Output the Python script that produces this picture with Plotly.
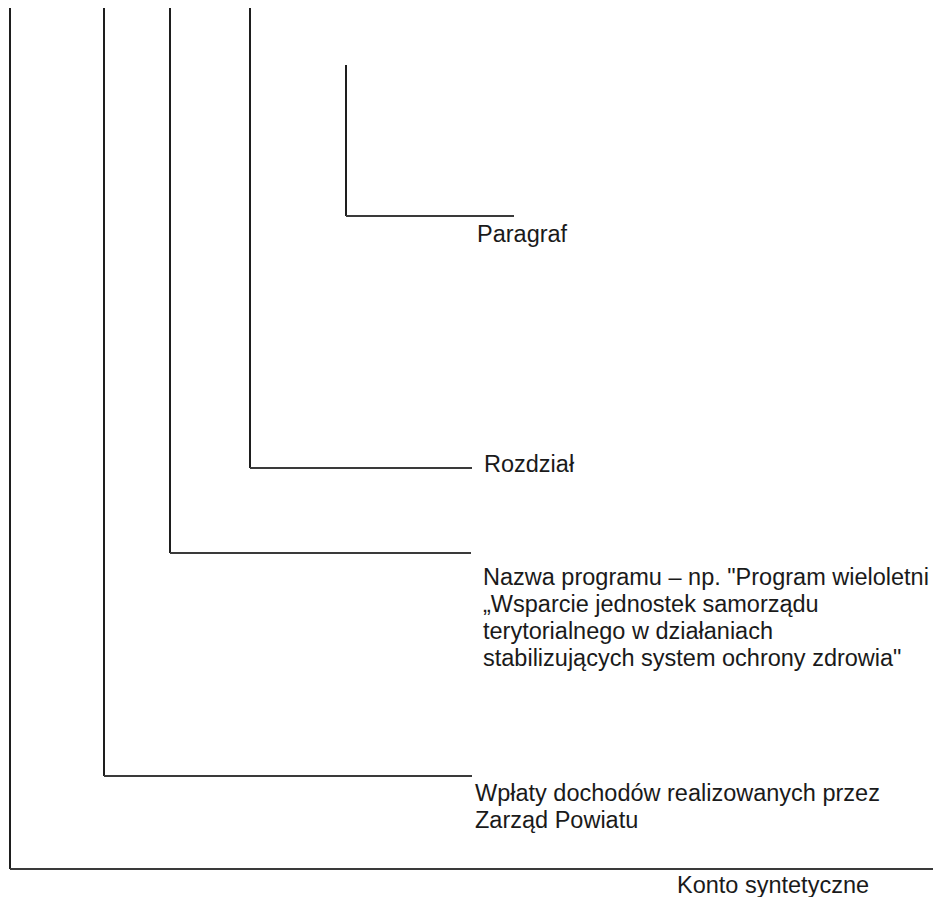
import plotly.graph_objects as go

PAGE_W, PAGE_H = 941, 897
OFF = 8  # default body margin of the html page

# Bracket levels (outermost first): label lines
labels = [
    ["Konto syntetyczne"],
    ["Wpłaty dochodów realizowanych przez", "Zarząd Powiatu"],
    ["Nazwa programu – np. \"Program wieloletni", "„Wsparcie jednostek samorządu",
     "terytorialnego w działaniach", "stabilizujących system ochrony zdrowia\""],
    ["Rozdział"],
    ["Paragraf"],
]
# geometry of each bracket: vertical x, top y, corner y, horizontal end x
vx = [10, 104, 170, 250, 346]
vtop = [0, 0, 0, 0, 65]
corner_y = [869, 776, 553, 468, 216]
hend = [941, 472, 471, 472, 514]
# label anchor: x, first line centre y
lab_x = [675, 473, 481, 482, 475]
lab_y = [885, 793, 577, 464, 234]
line_step = 27

fig = go.Figure()
for i in range(len(vx)):
    fig.add_trace(go.Scatter(
        x=[vx[i], vx[i]], y=[vtop[i], corner_y[i]], mode="lines",
        line=dict(color="#1e1e1e", width=2), hoverinfo="skip", showlegend=False))
    fig.add_trace(go.Scatter(
        x=[vx[i], hend[i]], y=[corner_y[i], corner_y[i]], mode="lines",
        line=dict(color="#3a3a3a", width=2), hoverinfo="skip", showlegend=False))
    for j, t in enumerate(labels[i]):
        fig.add_annotation(x=lab_x[i], y=lab_y[i] + j * line_step, text=t,
                           xref="x", yref="y", xanchor="left", yanchor="middle",
                           showarrow=False,
                           font=dict(family="Liberation Sans, Arial", size=23.5, color="#1a1a1a"))

fig.update_layout(
    width=PAGE_W - OFF, height=PAGE_H - OFF, margin=dict(l=0, r=0, t=0, b=0),
    paper_bgcolor="white", plot_bgcolor="white",
    xaxis=dict(range=[OFF, PAGE_W], visible=False, fixedrange=True),
    yaxis=dict(range=[PAGE_H, OFF], visible=False, fixedrange=True),
)
fig.write_html("out.html")
